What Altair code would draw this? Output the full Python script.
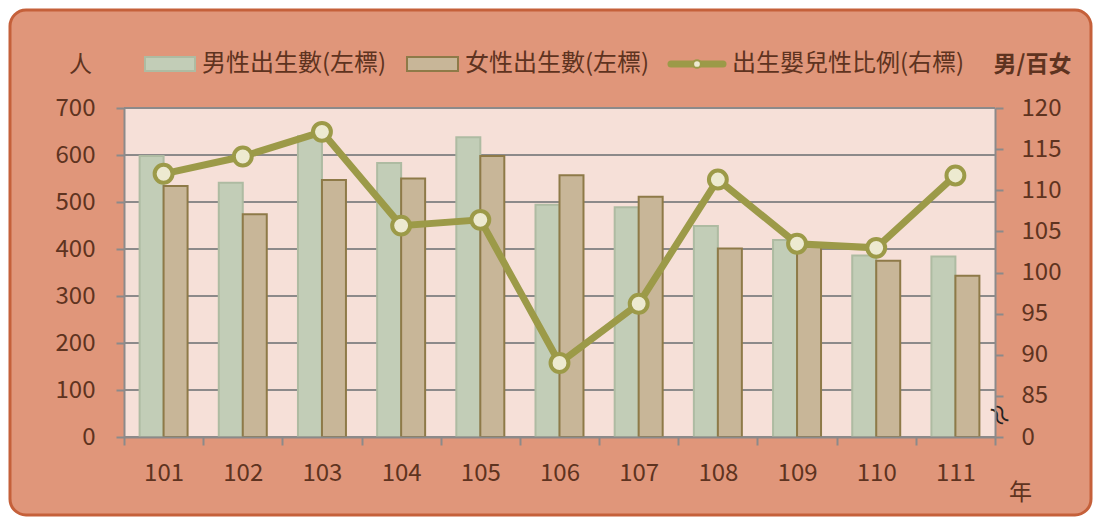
import altair as alt
import pandas as pd

years = ["101", "102", "103", "104", "105", "106", "107", "108", "109", "110", "111"]
male_births = [598, 541, 640, 583, 638, 494, 489, 449, 419, 386, 384]
female_births = [534, 474, 547, 550, 598, 557, 511, 401, 405, 375, 343]
sex_ratio = [112.0, 114.1, 117.1, 105.7, 106.4, 89.0, 96.2, 111.3, 103.5, 103.0, 111.8]
left_ticks = [0, 100, 200, 300, 400, 500, 600, 700]
right_ticks = [80, 85, 90, 95, 100, 105, 110, 115, 120]

MALE = "男性出生數(左標)"
FEMALE = "女性出生數(左標)"
RATIO = "出生嬰兒性比例(右標)"

W, H = 871, 329
FONT = "Noto Sans CJK TC"
TXT = "#5E3320"
GRID = "#8C8A8A"
male_fill, male_stroke = "#C2CDB7", "#AEBBA2"
female_fill, female_stroke = "#C8B698", "#8E7A48"
line_col, pt_fill = "#9C9A48", "#EDEAD0"

bars_df = pd.DataFrame({
    "year": years * 2,
    "sex": [MALE] * len(years) + [FEMALE] * len(years),
    "births": male_births + female_births,
})
ratio_df = pd.DataFrame({"year": years, "ratio": sex_ratio})
grid_df = pd.DataFrame({"births": left_ticks})
one = pd.DataFrame({"a": [0]})

xscale = alt.Scale(type="band", domain=years, paddingInner=0, paddingOuter=0)
yleft = alt.Scale(domain=[0, 700], nice=False)
yright = alt.Scale(domain=[80, 120], nice=False)

x_axis = alt.Axis(
    title="年", titleAngle=0, titleX=896, titleY=55, titleFont=FONT, titleFontSize=23,
    titleFontWeight="normal", titleColor=TXT, titleAlign="center", titleBaseline="middle",
    labelAngle=0, labelFont=FONT, labelFontSize=24, labelColor=TXT, labelPadding=16,
    tickBand="extent", tickSize=8, tickColor=GRID, tickWidth=2,
    domainColor=GRID, domainWidth=2, grid=False, zindex=1,
)
left_axis = alt.Axis(
    orient="left", values=left_ticks, title="人", titleAngle=0, titleX=-44, titleY=-44,
    titleFont=FONT, titleFontSize=23, titleFontWeight="normal", titleColor=TXT,
    titleAlign="center", titleBaseline="middle",
    labelFont=FONT, labelFontSize=24, labelColor=TXT, labelPadding=21,
    tickSize=8, tickColor=GRID, tickWidth=2, domainColor=GRID, domainWidth=2, grid=False,
    zindex=1,
)
right_axis = alt.Axis(
    orient="right", values=right_ticks, labelExpr="datum.value == 80 ? '0' : datum.label",
    title="男/百女", titleAngle=0, titleX=-2, titleY=-44, titleFont=FONT, titleFontSize=23,
    titleFontWeight="bold", titleColor=TXT, titleAlign="left", titleBaseline="middle",
    labelFont=FONT, labelFontSize=24, labelColor=TXT, labelPadding=18,
    tickSize=8, tickColor=GRID, tickWidth=2, domainColor=GRID, domainWidth=2, grid=False,
    zindex=1,
)

X = alt.X("year:N", scale=xscale, axis=x_axis, sort=years)

frame = alt.Chart(one).mark_rect(
    fill="#E0967A", stroke="#C5603A", strokeWidth=3, cornerRadius=16
).encode(x=alt.value(-114), x2=alt.value(W + 96), y=alt.value(-98), y2=alt.value(H + 78))

plotbg = alt.Chart(one).mark_rect(fill="#F6E0D8").encode(
    x=alt.value(0), x2=alt.value(W), y=alt.value(0), y2=alt.value(H)
)

grid = alt.Chart(grid_df).mark_rule(color=GRID, strokeWidth=2).encode(
    y=alt.Y("births:Q", scale=yleft, axis=left_axis)
)

bars = alt.Chart(bars_df).mark_bar(strokeWidth=2).encode(
    x=X,
    xOffset=alt.XOffset("sex:N", scale=alt.Scale(domain=[MALE, FEMALE], paddingInner=0, paddingOuter=0.65)),
    y=alt.Y("births:Q", scale=yleft, axis=left_axis),
    fill=alt.Fill("sex:N", scale=alt.Scale(domain=[MALE, FEMALE], range=[male_fill, female_fill]), legend=None),
    stroke=alt.Stroke("sex:N", scale=alt.Scale(domain=[MALE, FEMALE], range=[male_stroke, female_stroke]), legend=None),
)

left = alt.layer(grid, bars)

line = alt.Chart(ratio_df).mark_line(color=line_col, strokeWidth=7).encode(
    x=X,
    y=alt.Y("ratio:Q", scale=yright, axis=right_axis),
)
points = alt.Chart(ratio_df).mark_point(
    shape="circle", filled=True, fill=pt_fill, stroke=line_col, strokeWidth=4, size=320, opacity=1
).encode(
    x=X,
    y=alt.Y("ratio:Q", scale=yright, axis=right_axis),
)
right = alt.layer(line, points)

# legend (drawn manually to match the original layout)
LY = -44
LFS = 24
sw1 = alt.Chart(one).mark_rect(fill=male_fill, stroke=male_stroke, strokeWidth=2).encode(
    x=alt.value(21), x2=alt.value(71), y=alt.value(LY - 7), y2=alt.value(LY + 7))
tx1 = alt.Chart(one).mark_text(text=MALE, font=FONT, fontSize=LFS, color=TXT, align="left", baseline="middle").encode(
    x=alt.value(78), y=alt.value(LY))
sw2 = alt.Chart(one).mark_rect(fill=female_fill, stroke=female_stroke, strokeWidth=2).encode(
    x=alt.value(283), x2=alt.value(334), y=alt.value(LY - 7), y2=alt.value(LY + 7))
tx2 = alt.Chart(one).mark_text(text=FEMALE, font=FONT, fontSize=LFS, color=TXT, align="left", baseline="middle").encode(
    x=alt.value(341), y=alt.value(LY))
ln3 = alt.Chart(one).mark_rule(color=line_col, strokeWidth=7, strokeCap="round").encode(
    x=alt.value(547), x2=alt.value(599), y=alt.value(LY))
pt3 = alt.Chart(one).mark_point(shape="circle", filled=True, fill=pt_fill, stroke=line_col, strokeWidth=2, size=60, opacity=1).encode(
    x=alt.value(573), y=alt.value(LY))
tx3 = alt.Chart(one).mark_text(text=RATIO, font=FONT, fontSize=LFS, color=TXT, align="left", baseline="middle").encode(
    x=alt.value(608), y=alt.value(LY))
brk = alt.Chart(one).mark_text(text="≈", font=FONT, fontSize=26, color="#222222", angle=60, align="center", baseline="middle").encode(
    x=alt.value(W + 3), y=alt.value(308))

chart = alt.layer(
    frame, plotbg, left, right, sw1, tx1, sw2, tx2, ln3, pt3, tx3, brk
).resolve_scale(
    y="independent"
).properties(
    width=W, height=H,
    autosize=alt.AutoSizeParams(type="none"),
    padding={"left": 116, "top": 100, "right": 98, "bottom": 80},
    background="white",
).configure_view(stroke=None)

chart.save("out.html", embed_options={"renderer": "svg", "actions": False})
